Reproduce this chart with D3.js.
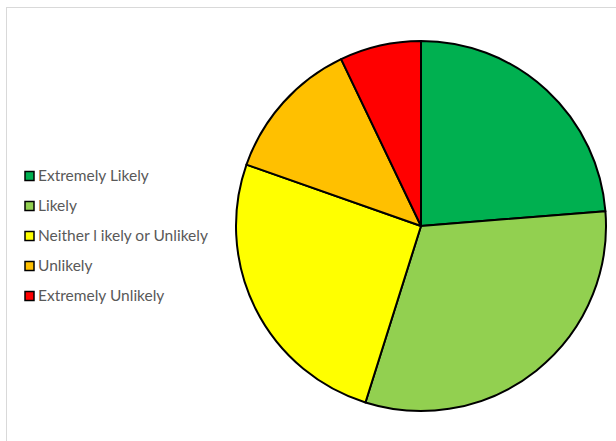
<!DOCTYPE html>
<html>
<head>
<meta charset="utf-8">
<script src="https://cdn.jsdelivr.net/npm/d3@7"></script>
<style>
body { margin: 0; background: #fff; }
svg text { font-family: Lato, "Open Sans", sans-serif; }
</style>
</head>
<body>
<div id="chart"></div>
<script>
var categories = ["Extremely Likely", "Likely", "Neither l ikely or Unlikely", "Unlikely", "Extremely Unlikely"];
var values = [23.7, 31.1, 25.5, 12.5, 7.1];
var colors = ["#00B050", "#92D050", "#FFFF00", "#FFC000", "#FF0000"];

var width = 616, height = 441;
var center = {x: 421, y: 226};
var radius = 185;

var svg = d3.select("#chart")
	.append("svg")
	.attr("width", width)
	.attr("height", height);

// chart area border
svg.append("rect")
	.attr("x", 6.5)
	.attr("y", 7.5)
	.attr("width", width + 10)
	.attr("height", height + 10)
	.attr("fill", "#fff")
	.attr("stroke", "#d9d9d9")
	.attr("stroke-width", 1);

var pie = d3.pie().sort(null).value(function (d) { return d; });
var arc = d3.arc().innerRadius(0).outerRadius(radius);

var g = svg.append("g")
	.attr("transform", "translate(" + center.x + "," + center.y + ")");

g.selectAll("path")
	.data(pie(values))
	.enter()
	.append("path")
		.attr("d", arc)
		.attr("fill", function (d, i) { return colors[i]; })
		.attr("stroke", "#000")
		.attr("stroke-width", 2)
		.attr("stroke-linejoin", "round");

// legend
var legendY = d3.scalePoint().domain(categories).range([176, 296]);

var legend = svg.selectAll("g.legend")
	.data(categories)
	.enter()
	.append("g")
		.classed("legend", true)
		.attr("transform", function (d) { return "translate(25," + legendY(d) + ")"; });

legend.append("rect")
	.attr("x", 0)
	.attr("y", -4.5)
	.attr("width", 9)
	.attr("height", 9)
	.attr("fill", function (d, i) { return colors[i]; })
	.attr("stroke", "#000")
	.attr("stroke-width", 1.5);

legend.append("text")
	.attr("x", 13)
	.attr("y", 0)
	.attr("dy", "0.35em")
	.attr("font-size", "15.5px")
	.attr("fill", "#595959")
	.text(function (d) { return d; });
</script>
</body>
</html>
